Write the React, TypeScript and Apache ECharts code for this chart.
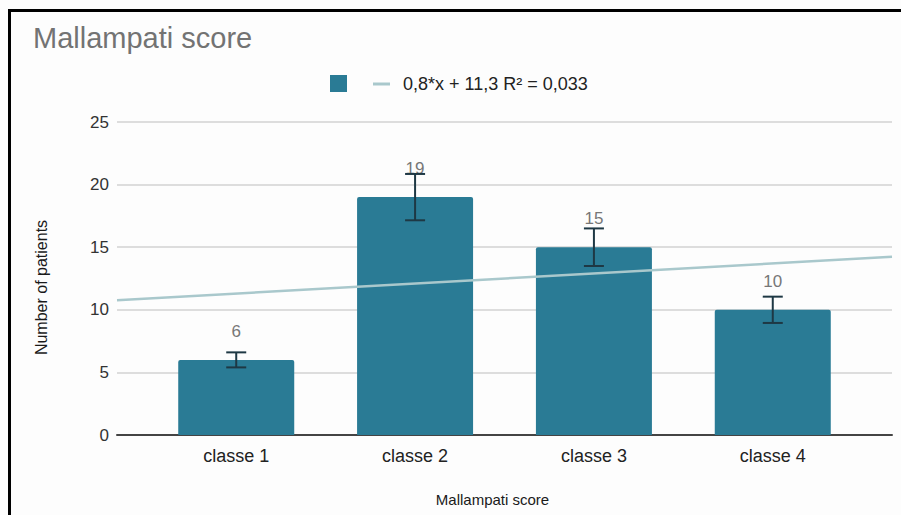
import React, { useEffect, useRef } from "react";
import * as echarts from "echarts";

const categories = ["classe 1", "classe 2", "classe 3", "classe 4"];
const patients = [6, 19, 15, 10];
const errors = [0.6, 1.85, 1.5, 1.05];
const trendX = [1 / 3, 14 / 3];
const trendY = [10.77, 14.23];
const trendLabel = "0,8*x + 11,3 R² = 0,033";
const titleText = "Mallampati score";
const xAxisName = "Mallampati score";
const yAxisName = "Number of patients";
const yMin = 0;
const yMax = 25;
const yStep = 5;

const BAR = "#2a7b95";
const FONT = "Liberation Sans, Arial, sans-serif";

export default function App() {
  const ref = useRef<HTMLDivElement>(null);
  useEffect(() => {
    if (!ref.current) return;
    const chart = echarts.init(ref.current, null, { renderer: "svg" });
    const positions = categories.map((_, i) => i + 1);
    chart.setOption({
      animation: false,
      backgroundColor: "#fdfdfd",
      textStyle: { fontFamily: FONT },
      title: {
        text: titleText,
        left: 28,
        top: 18,
        textStyle: { fontSize: 29, fontWeight: "normal", color: "#737373", fontFamily: FONT },
      },
      graphic: [
        { type: "rect", shape: { x: 330, y: 75, width: 17, height: 17 }, style: { fill: BAR } },
        { type: "line", shape: { x1: 373, y1: 84, x2: 390, y2: 84 }, style: { stroke: "#a9c8cc", lineWidth: 3 } },
        {
          type: "text",
          x: 403,
          y: 84,
          style: { text: trendLabel, fontSize: 18, fill: "#222", verticalAlign: "middle", fontFamily: FONT },
        },
      ],
      grid: { left: 117, right: 9, top: 122, bottom: 80, containLabel: false },
      xAxis: {
        type: "value",
        min: trendX[0],
        max: trendX[1],
        name: xAxisName,
        nameLocation: "middle",
        nameGap: 57,
        nameTextStyle: { fontSize: 15, color: "#1a1a1a", fontFamily: FONT, padding: [0, 24, 0, 0] },
        axisLine: { show: true, lineStyle: { color: "#444", width: 2 } },
        axisTick: { show: false },
        splitLine: { show: false },
        axisLabel: {
          customValues: positions,
          formatter: (v: number) => categories[Math.round(v) - 1] ?? "",
          fontSize: 18,
          color: "#222",
          margin: 12,
          fontFamily: FONT,
        },
      },
      yAxis: {
        type: "value",
        min: yMin,
        max: yMax,
        interval: yStep,
        name: yAxisName,
        nameLocation: "middle",
        nameGap: 68,
        nameTextStyle: { fontSize: 16, color: "#1a1a1a", fontFamily: FONT, padding: [0, 18, 0, 0] },
        axisLine: { show: false },
        axisTick: { show: false },
        axisLabel: { fontSize: 17, color: "#333", margin: 8, fontFamily: FONT },
        splitLine: { lineStyle: { color: "#d2d2d2", width: 1.5 } },
      },
      series: [
        {
          type: "bar",
          name: "patients",
          data: positions.map((x, i) => [x, patients[i]]),
          barWidth: 116,
          itemStyle: { color: BAR, borderRadius: [2, 2, 0, 0] },
          label: {
            show: true,
            position: "top",
            distance: 20,
            color: "#777",
            fontSize: 17,
            fontFamily: FONT,
            formatter: (p: any) => String(p.value[1]),
          },
          z: 2,
        },
        {
          type: "line",
          name: "trend",
          data: trendX.map((x, i) => [x, trendY[i]]),
          showSymbol: false,
          symbol: "none",
          lineStyle: { color: "#a9c8cc", width: 2.5 },
          z: 3,
        },
        {
          type: "custom",
          name: "error",
          data: positions.map((x, i) => [x, patients[i] - errors[i], patients[i] + errors[i]]),
          renderItem: (params: any, api: any) => {
            const x = api.value(0);
            const lo = api.coord([x, api.value(1)]);
            const hi = api.coord([x, api.value(2)]);
            const half = 10;
            const style = { stroke: "#1e3844", lineWidth: 2 };
            return {
              type: "group",
              children: [
                { type: "line", shape: { x1: hi[0], y1: hi[1], x2: lo[0], y2: lo[1] }, style },
                { type: "line", shape: { x1: hi[0] - half, y1: hi[1], x2: hi[0] + half, y2: hi[1] }, style },
                { type: "line", shape: { x1: lo[0] - half, y1: lo[1], x2: lo[0] + half, y2: lo[1] }, style },
              ],
            };
          },
          z: 4,
        },
      ],
    });
    return () => chart.dispose();
  }, []);
  return (
    <div style={{ position: "fixed", left: 0, top: 0, width: 901, height: 515, overflow: "hidden" }}>
      <div ref={ref} style={{ position: "absolute", left: 0, top: 0, width: 901, height: 515 }} />
      <div
        style={{
          position: "absolute",
          left: 8,
          top: 9,
          width: 910,
          height: 520,
          borderTop: "3px solid #000",
          borderLeft: "3px solid #000",
          pointerEvents: "none",
        }}
      />
    </div>
  );
}
